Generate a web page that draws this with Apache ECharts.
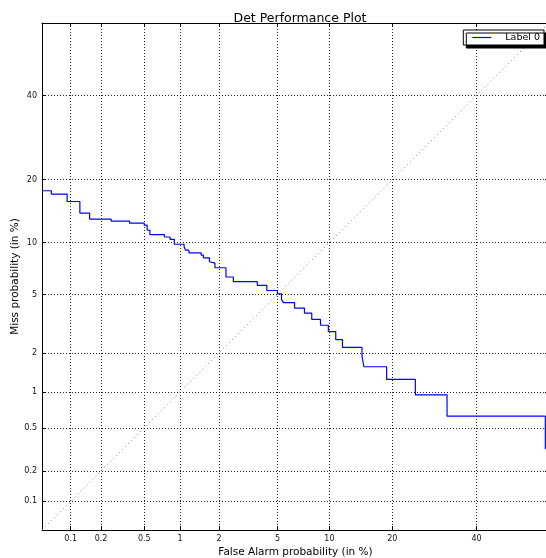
<!DOCTYPE html>
<html>
<head>
<meta charset="utf-8">
<script src="https://cdn.jsdelivr.net/npm/echarts@6/dist/echarts.min.js"></script>
<style>
    html, body {margin: 0; padding: 0; background: #fff;}
    #det {width: 546px; height: 558px;}
</style>
</head>
<body>
<div id="det"></div>
<script>
// step points of the curve, in %
var faRate = [0.05, 0.063, 0.092, 0.124, 0.155, 0.25, 0.37, 0.50, 0.53, 0.56, 0.745, 0.83, 0.90,
    1.08, 1.11, 1.18, 1.47, 1.53, 1.70, 1.74, 1.87, 2.25, 2.54, 3.71, 4.28, 5.0, 5.3, 5.45, 6.36,
    7.27, 8.0, 8.95, 9.87, 10.8, 11.7, 14.6, 14.9, 18.9, 24.8, 32.3, 59];
var missRate = [17.9, 17.3, 16.0, 14.1, 13.2, 12.9, 12.6, 12.3, 11.6, 11.0, 10.7, 10.4, 9.8,
    9.5, 9.1, 8.8, 8.55, 8.25, 7.85, 7.7, 7.25, 6.4, 6.0, 5.7, 5.3, 5.05, 4.65, 4.45, 4.1,
    3.8, 3.45, 3.15, 2.85, 2.5, 2.2, 1.9, 1.58, 1.26, 0.95, 0.63, 0.32];
var tickLabels = ['0.1', '0.2', '0.5', '1', '2', '5', '10', '20', '40'];
var axisRange = [0.05, 60];
var diagonal = [0.05, 60];

// inverse normal cdf (Acklam)
function ppf(p) {
    var a = [-3.969683028665376e+01, 2.209460984245205e+02, -2.759285104469687e+02, 1.383577518672690e+02, -3.066479806614716e+01, 2.506628277459239e+00];
    var b = [-5.447609879822406e+01, 1.615858368580409e+02, -1.556989798598866e+02, 6.680131188771972e+01, -1.328068155288572e+01];
    var c = [-7.784894002430293e-03, -3.223964580411365e-01, -2.400758277161838e+00, -2.549732539343734e+00, 4.374664141464968e+00, 2.938163982698783e+00];
    var d = [7.784695709041462e-03, 3.224671290700398e-01, 2.445134137142996e+00, 3.754408661907416e+00];
    var q, r;
    if (p < 0.02425) {
        q = Math.sqrt(-2 * Math.log(p));
        return (((((c[0] * q + c[1]) * q + c[2]) * q + c[3]) * q + c[4]) * q + c[5]) / ((((d[0] * q + d[1]) * q + d[2]) * q + d[3]) * q + 1);
    }
    if (p > 1 - 0.02425) {
        q = Math.sqrt(-2 * Math.log(1 - p));
        return -(((((c[0] * q + c[1]) * q + c[2]) * q + c[3]) * q + c[4]) * q + c[5]) / ((((d[0] * q + d[1]) * q + d[2]) * q + d[3]) * q + 1);
    }
    q = p - 0.5;
    r = q * q;
    return (((((a[0] * r + a[1]) * r + a[2]) * r + a[3]) * r + a[4]) * r + a[5]) * q / (((((b[0] * r + b[1]) * r + b[2]) * r + b[3]) * r + b[4]) * r + 1);
}
function pct(v) { return ppf(v / 100); }

var tickPos = tickLabels.map(function (t) { return pct(parseFloat(t)); });
function tickText(value) {
    for (var i = 0; i < tickPos.length; i++) {
        if (Math.abs(tickPos[i] - value) < 1e-6) return tickLabels[i];
    }
    return '';
}

var lo = pct(axisRange[0]), hi = pct(axisRange[1]);
var font = 'DejaVu Sans';

function makeAxis(pos, main, name, nameGap) {
    return {
        type: 'value',
        position: pos,
        min: lo,
        max: hi,
        name: main ? name : '',
        nameLocation: 'middle',
        nameGap: nameGap,
        nameMoveOverlap: false,
        nameTextStyle: {fontFamily: font, fontSize: 10.5, color: '#000'},
        axisLine: {show: true, onZero: false, lineStyle: {color: '#000', width: 1}},
        axisTick: {show: true, inside: true, length: 4, customValues: tickPos, lineStyle: {color: '#000', width: 1}},
        axisLabel: {
            show: main,
            margin: 5,
            customValues: tickPos,
            fontFamily: font,
            fontSize: 8,
            color: '#111',
            formatter: tickText
        },
        splitLine: {show: main, lineStyle: {color: '#222', width: 1, type: [1, 2]}}
    };
}

var chart = echarts.init(document.getElementById('det'));
var curve = faRate.map(function (f, i) { return [pct(f), pct(missRate[i])]; });

var option = {
    animation: false,
    title: {
        text: 'Det Performance Plot',
        left: 295,
        textAlign: 'center',
        top: 7,
        textStyle: {fontFamily: font, fontSize: 12.5, fontWeight: 'normal', color: '#000'}
    },
    grid: {left: 42, right: -3, top: 23, bottom: 28, containLabel: false, outerBoundsMode: 'none'},
    legend: {
        data: [{name: 'Label 0', icon: 'rect'}],
        right: 2,
        top: 30,
        padding: [2.5, 4, 2.5, 9],
        itemWidth: 19,
        itemHeight: 1.2,
        backgroundColor: '#fff',
        borderColor: '#000',
        borderWidth: 1,
        borderRadius: 0,
        shadowColor: '#000',
        shadowBlur: 0,
        shadowOffsetX: 3,
        shadowOffsetY: 3,
        textStyle: {fontFamily: font, fontSize: 9.5, color: '#000', padding: [0, 0, 0, 9]}
    },
    xAxis: [
        makeAxis('bottom', true, 'False Alarm probability (in %)', 17),
        makeAxis('top', false, '', 0)
    ],
    yAxis: [
        makeAxis('left', true, 'Miss probability (in %)', 21),
        makeAxis('right', false, '', 0)
    ],
    series: [
        {
            name: 'diag',
            type: 'line',
            silent: true,
            symbol: 'none',
            data: diagonal.map(function (v) { return [pct(v), pct(v)]; }),
            lineStyle: {color: '#999', width: 1, type: [1.2, 3]}
        },
        {
            name: 'Label 0',
            type: 'line',
            step: 'end',
            symbol: 'none',
            data: curve,
            itemStyle: {color: '#0000ff'},
            lineStyle: {color: '#0000ff', width: 1.2}
        }
    ]
};
chart.setOption(option);
</script>
</body>
</html>
